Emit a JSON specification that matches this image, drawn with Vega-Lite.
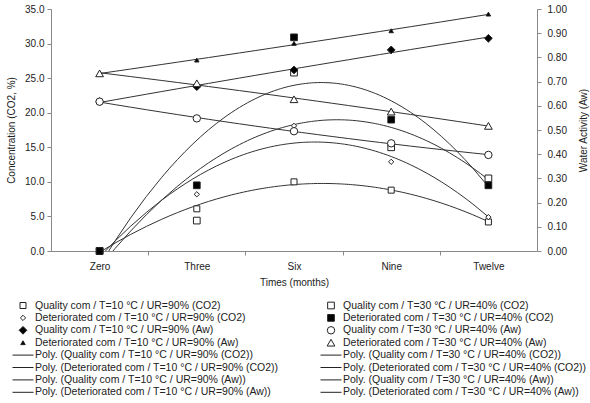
{
  "$schema": "https://vega.github.io/schema/vega-lite/v6.json",
  "width": 486,
  "height": 242,
  "autosize": {"type": "none"},
  "padding": {"left": 51, "top": 9, "right": 53, "bottom": 152},
  "background": "white",
  "config": {
    "view": {"stroke": null},
    "font": "Liberation Sans",
    "axis": {
      "labelFont": "Liberation Sans",
      "titleFont": "Liberation Sans",
      "labelFontSize": 10,
      "titleFontSize": 10,
      "titleFontWeight": "normal",
      "labelColor": "#222",
      "titleColor": "#222",
      "domainColor": "#888",
      "tickColor": "#888",
      "grid": false,
      "tickSize": 4
    }
  },
  "datasets": {
    "co2": [
      {"series": "Quality com / T=10  °C / UR=90% (CO2)", "m": 0, "v": 0},
      {"series": "Quality com / T=10  °C / UR=90% (CO2)", "m": 3, "v": 6.1},
      {"series": "Quality com / T=10  °C / UR=90% (CO2)", "m": 6, "v": 10.0},
      {"series": "Quality com / T=10  °C / UR=90% (CO2)", "m": 9, "v": 8.8},
      {"series": "Quality com / T=10  °C / UR=90% (CO2)", "m": 12, "v": 4.2},
      {"series": "Deteriorated com / T=10  °C / UR=90% (CO2)", "m": 0, "v": 0},
      {"series": "Deteriorated com / T=10  °C / UR=90% (CO2)", "m": 3, "v": 8.2},
      {"series": "Deteriorated com / T=10  °C / UR=90% (CO2)", "m": 6, "v": 18.1},
      {"series": "Deteriorated com / T=10  °C / UR=90% (CO2)", "m": 9, "v": 12.9},
      {"series": "Deteriorated com / T=10  °C / UR=90% (CO2)", "m": 12, "v": 4.9},
      {"series": "Quality com / T=30  °C / UR=40% (CO2)", "m": 0, "v": 0},
      {"series": "Quality com / T=30  °C / UR=40% (CO2)", "m": 3, "v": 4.4},
      {"series": "Quality com / T=30  °C / UR=40% (CO2)", "m": 6, "v": 25.8},
      {"series": "Quality com / T=30  °C / UR=40% (CO2)", "m": 9, "v": 15.0},
      {"series": "Quality com / T=30  °C / UR=40% (CO2)", "m": 12, "v": 10.5},
      {"series": "Deteriorated com / T=30  °C / UR=40% (CO2)", "m": 0, "v": 0},
      {"series": "Deteriorated com / T=30  °C / UR=40% (CO2)", "m": 3, "v": 9.5},
      {"series": "Deteriorated com / T=30  °C / UR=40% (CO2)", "m": 6, "v": 30.9},
      {"series": "Deteriorated com / T=30  °C / UR=40% (CO2)", "m": 9, "v": 19.0},
      {"series": "Deteriorated com / T=30  °C / UR=40% (CO2)", "m": 12, "v": 9.5}
    ],
    "aw": [
      {"series": "Quality com / T=10  °C / UR=90% (Aw)", "m": 0, "v": 0.617},
      {"series": "Quality com / T=10  °C / UR=90% (Aw)", "m": 3, "v": 0.679},
      {"series": "Quality com / T=10  °C / UR=90% (Aw)", "m": 6, "v": 0.748},
      {"series": "Quality com / T=10  °C / UR=90% (Aw)", "m": 9, "v": 0.831},
      {"series": "Quality com / T=10  °C / UR=90% (Aw)", "m": 12, "v": 0.879},
      {"series": "Deteriorated com / T=10  °C / UR=90% (Aw)", "m": 0, "v": 0.734},
      {"series": "Deteriorated com / T=10  °C / UR=90% (Aw)", "m": 3, "v": 0.789},
      {"series": "Deteriorated com / T=10  °C / UR=90% (Aw)", "m": 6, "v": 0.858},
      {"series": "Deteriorated com / T=10  °C / UR=90% (Aw)", "m": 9, "v": 0.910},
      {"series": "Deteriorated com / T=10  °C / UR=90% (Aw)", "m": 12, "v": 0.979},
      {"series": "Quality com / T=30  °C / UR=40% (Aw)", "m": 0, "v": 0.617},
      {"series": "Quality com / T=30  °C / UR=40% (Aw)", "m": 3, "v": 0.548},
      {"series": "Quality com / T=30  °C / UR=40% (Aw)", "m": 6, "v": 0.495},
      {"series": "Quality com / T=30  °C / UR=40% (Aw)", "m": 9, "v": 0.445},
      {"series": "Quality com / T=30  °C / UR=40% (Aw)", "m": 12, "v": 0.397},
      {"series": "Deteriorated com / T=30  °C / UR=40% (Aw)", "m": 0, "v": 0.734},
      {"series": "Deteriorated com / T=30  °C / UR=40% (Aw)", "m": 3, "v": 0.693},
      {"series": "Deteriorated com / T=30  °C / UR=40% (Aw)", "m": 6, "v": 0.627},
      {"series": "Deteriorated com / T=30  °C / UR=40% (Aw)", "m": 9, "v": 0.576},
      {"series": "Deteriorated com / T=30  °C / UR=40% (Aw)", "m": 12, "v": 0.517}
    ]
  },
  "encoding": {
    "x": {
      "field": "m",
      "type": "quantitative",
      "scale": {"domain": [-1.5, 13.5], "nice": false, "zero": false},
      "axis": {
        "title": "Times (months)",
        "values": [0, 1.5, 3, 4.5, 6, 7.5, 9, 10.5, 12],
        "labelExpr": "datum.value == 0 ? 'Zero' : datum.value == 3 ? 'Three' : datum.value == 6 ? 'Six' : datum.value == 9 ? 'Nine' : datum.value == 12 ? 'Twelve' : ''",
        "tickOpacity": {"condition": {"test": "datum.value % 3 === 0", "value": 0}, "value": 1},
        "labelOverlap": false,
        "labelPadding": 6,
        "titlePadding": 6
      }
    }
  },
  "layer": [
    {
      "data": {"name": "co2"},
      "encoding": {
        "y": {
          "field": "v",
          "type": "quantitative",
          "scale": {"domain": [0, 35], "nice": false},
          "axis": {
            "title": "Concentration (CO2, %)",
            "orient": "left",
            "values": [0, 5, 10, 15, 20, 25, 30, 35],
            "format": ".1f",
            "labelPadding": 3,
            "titlePadding": 8
          }
        }
      },
      "layer": [
        {
          "transform": [
            {"regression": "v", "on": "m", "method": "poly", "order": 2, "groupby": ["series"], "extent": [0, 12]}
          ],
          "mark": {"type": "line", "clip": true, "color": "#333", "strokeWidth": 1},
          "encoding": {"detail": {"field": "series"}}
        },
        {
          "mark": {"type": "point", "filled": true, "stroke": "#222", "strokeWidth": 1, "opacity": 1},
          "encoding": {
            "shape": {
              "field": "series", "type": "nominal",
              "scale": {
                "domain": [
                  "Quality com / T=10  °C / UR=90% (CO2)",
                  "Deteriorated com / T=10  °C / UR=90% (CO2)",
                  "Quality com / T=10  °C / UR=90% (Aw)",
                  "Deteriorated com / T=10  °C / UR=90% (Aw)",
                  "Poly. (Quality com / T=10  °C / UR=90% (CO2))",
                  "Poly. (Deteriorated com / T=10  °C / UR=90% (CO2))",
                  "Poly. (Quality com / T=10  °C / UR=90% (Aw))",
                  "Poly. (Deteriorated com / T=10  °C / UR=90% (Aw))",
                  "Quality com / T=30  °C / UR=40% (CO2)",
                  "Deteriorated com / T=30  °C / UR=40% (CO2)",
                  "Quality com / T=30  °C / UR=40% (Aw)",
                  "Deteriorated com / T=30  °C / UR=40% (Aw)",
                  "Poly. (Quality com / T=30  °C / UR=40% (CO2))",
                  "Poly. (Deteriorated com / T=30  °C / UR=40% (CO2))",
                  "Poly. (Quality com / T=30  °C / UR=40% (Aw))",
                  "Poly. (Deteriorated com / T=30  °C / UR=40% (Aw))"
                ],
                "range": ["square", "diamond", "diamond", "triangle-up", "M-1,0H1", "M-1,0H1", "M-1,0H1", "M-1,0H1",
                  "square", "square", "circle", "triangle-up", "M-1,0H1", "M-1,0H1", "M-1,0H1", "M-1,0H1"]
              },
              "legend": {
                "orient": "none", "legendX": -39, "legendY": 291, "columns": 2, "title": null,
                "labelFont": "Liberation Sans", "labelFontSize": 10.5, "labelColor": "#222", "labelLimit": 0,
                "clipHeight": 11, "rowPadding": 1.4, "columnPadding": 38, "labelOffset": 1,
                "symbolStrokeColor": "#222", "symbolStrokeWidth": 1
              }
            },
            "fill": {
              "field": "series", "type": "nominal",
              "scale": {
                "domain": [
                  "Quality com / T=10  °C / UR=90% (CO2)",
                  "Deteriorated com / T=10  °C / UR=90% (CO2)",
                  "Quality com / T=10  °C / UR=90% (Aw)",
                  "Deteriorated com / T=10  °C / UR=90% (Aw)",
                  "Poly. (Quality com / T=10  °C / UR=90% (CO2))",
                  "Poly. (Deteriorated com / T=10  °C / UR=90% (CO2))",
                  "Poly. (Quality com / T=10  °C / UR=90% (Aw))",
                  "Poly. (Deteriorated com / T=10  °C / UR=90% (Aw))",
                  "Quality com / T=30  °C / UR=40% (CO2)",
                  "Deteriorated com / T=30  °C / UR=40% (CO2)",
                  "Quality com / T=30  °C / UR=40% (Aw)",
                  "Deteriorated com / T=30  °C / UR=40% (Aw)",
                  "Poly. (Quality com / T=30  °C / UR=40% (CO2))",
                  "Poly. (Deteriorated com / T=30  °C / UR=40% (CO2))",
                  "Poly. (Quality com / T=30  °C / UR=40% (Aw))",
                  "Poly. (Deteriorated com / T=30  °C / UR=40% (Aw))"
                ],
                "range": ["white", "white", "black", "black", "white", "white", "white", "white",
                  "white", "black", "white", "white", "white", "white", "white", "white"]
              }
            },
            "size": {
              "field": "series", "type": "nominal",
              "scale": {
                "type": "ordinal",
                "domain": [
                  "Quality com / T=10  °C / UR=90% (CO2)",
                  "Deteriorated com / T=10  °C / UR=90% (CO2)",
                  "Quality com / T=10  °C / UR=90% (Aw)",
                  "Deteriorated com / T=10  °C / UR=90% (Aw)",
                  "Poly. (Quality com / T=10  °C / UR=90% (CO2))",
                  "Poly. (Deteriorated com / T=10  °C / UR=90% (CO2))",
                  "Poly. (Quality com / T=10  °C / UR=90% (Aw))",
                  "Poly. (Deteriorated com / T=10  °C / UR=90% (Aw))",
                  "Quality com / T=30  °C / UR=40% (CO2)",
                  "Deteriorated com / T=30  °C / UR=40% (CO2)",
                  "Quality com / T=30  °C / UR=40% (Aw)",
                  "Deteriorated com / T=30  °C / UR=40% (Aw)",
                  "Poly. (Quality com / T=30  °C / UR=40% (CO2))",
                  "Poly. (Deteriorated com / T=30  °C / UR=40% (CO2))",
                  "Poly. (Quality com / T=30  °C / UR=40% (Aw))",
                  "Poly. (Deteriorated com / T=30  °C / UR=40% (Aw))"
                ],
                "range": [36, 28, 60, 20, 441, 441, 441, 441, 45, 45, 55, 60, 441, 441, 441, 441]
              }
            }
          }
        }
      ]
    },
    {
      "data": {"name": "aw"},
      "encoding": {
        "y": {
          "field": "v",
          "type": "quantitative",
          "scale": {"domain": [0, 1], "nice": false},
          "axis": {
            "title": "Water Activity (Aw)",
            "orient": "right",
            "values": [0, 0.1, 0.2, 0.3, 0.4, 0.5, 0.6, 0.7, 0.8, 0.9, 1.0],
            "format": ".2f",
            "labelPadding": 6,
            "titleAngle": 270,
            "titlePadding": 22
          }
        }
      },
      "layer": [
        {
          "transform": [
            {"regression": "v", "on": "m", "method": "poly", "order": 2, "groupby": ["series"], "extent": [0, 12]}
          ],
          "mark": {"type": "line", "clip": true, "color": "#333", "strokeWidth": 1},
          "encoding": {"detail": {"field": "series"}}
        },
        {
          "mark": {"type": "point", "filled": true, "stroke": "#222", "strokeWidth": 1, "opacity": 1},
          "encoding": {
            "shape": {
              "field": "series", "type": "nominal",
              "scale": {
                "domain": [
                  "Quality com / T=10  °C / UR=90% (CO2)",
                  "Deteriorated com / T=10  °C / UR=90% (CO2)",
                  "Quality com / T=10  °C / UR=90% (Aw)",
                  "Deteriorated com / T=10  °C / UR=90% (Aw)",
                  "Poly. (Quality com / T=10  °C / UR=90% (CO2))",
                  "Poly. (Deteriorated com / T=10  °C / UR=90% (CO2))",
                  "Poly. (Quality com / T=10  °C / UR=90% (Aw))",
                  "Poly. (Deteriorated com / T=10  °C / UR=90% (Aw))",
                  "Quality com / T=30  °C / UR=40% (CO2)",
                  "Deteriorated com / T=30  °C / UR=40% (CO2)",
                  "Quality com / T=30  °C / UR=40% (Aw)",
                  "Deteriorated com / T=30  °C / UR=40% (Aw)",
                  "Poly. (Quality com / T=30  °C / UR=40% (CO2))",
                  "Poly. (Deteriorated com / T=30  °C / UR=40% (CO2))",
                  "Poly. (Quality com / T=30  °C / UR=40% (Aw))",
                  "Poly. (Deteriorated com / T=30  °C / UR=40% (Aw))"
                ],
                "range": ["square", "diamond", "diamond", "triangle-up", "M-1,0H1", "M-1,0H1", "M-1,0H1", "M-1,0H1",
                  "square", "square", "circle", "triangle-up", "M-1,0H1", "M-1,0H1", "M-1,0H1", "M-1,0H1"]
              }
            },
            "fill": {
              "field": "series", "type": "nominal",
              "scale": {
                "domain": [
                  "Quality com / T=10  °C / UR=90% (CO2)",
                  "Deteriorated com / T=10  °C / UR=90% (CO2)",
                  "Quality com / T=10  °C / UR=90% (Aw)",
                  "Deteriorated com / T=10  °C / UR=90% (Aw)",
                  "Poly. (Quality com / T=10  °C / UR=90% (CO2))",
                  "Poly. (Deteriorated com / T=10  °C / UR=90% (CO2))",
                  "Poly. (Quality com / T=10  °C / UR=90% (Aw))",
                  "Poly. (Deteriorated com / T=10  °C / UR=90% (Aw))",
                  "Quality com / T=30  °C / UR=40% (CO2)",
                  "Deteriorated com / T=30  °C / UR=40% (CO2)",
                  "Quality com / T=30  °C / UR=40% (Aw)",
                  "Deteriorated com / T=30  °C / UR=40% (Aw)",
                  "Poly. (Quality com / T=30  °C / UR=40% (CO2))",
                  "Poly. (Deteriorated com / T=30  °C / UR=40% (CO2))",
                  "Poly. (Quality com / T=30  °C / UR=40% (Aw))",
                  "Poly. (Deteriorated com / T=30  °C / UR=40% (Aw))"
                ],
                "range": ["white", "white", "black", "black", "white", "white", "white", "white",
                  "white", "black", "white", "white", "white", "white", "white", "white"]
              }
            },
            "size": {
              "field": "series", "type": "nominal",
              "scale": {
                "type": "ordinal",
                "domain": [
                  "Quality com / T=10  °C / UR=90% (CO2)",
                  "Deteriorated com / T=10  °C / UR=90% (CO2)",
                  "Quality com / T=10  °C / UR=90% (Aw)",
                  "Deteriorated com / T=10  °C / UR=90% (Aw)",
                  "Poly. (Quality com / T=10  °C / UR=90% (CO2))",
                  "Poly. (Deteriorated com / T=10  °C / UR=90% (CO2))",
                  "Poly. (Quality com / T=10  °C / UR=90% (Aw))",
                  "Poly. (Deteriorated com / T=10  °C / UR=90% (Aw))",
                  "Quality com / T=30  °C / UR=40% (CO2)",
                  "Deteriorated com / T=30  °C / UR=40% (CO2)",
                  "Quality com / T=30  °C / UR=40% (Aw)",
                  "Deteriorated com / T=30  °C / UR=40% (Aw)",
                  "Poly. (Quality com / T=30  °C / UR=40% (CO2))",
                  "Poly. (Deteriorated com / T=30  °C / UR=40% (CO2))",
                  "Poly. (Quality com / T=30  °C / UR=40% (Aw))",
                  "Poly. (Deteriorated com / T=30  °C / UR=40% (Aw))"
                ],
                "range": [36, 28, 60, 20, 441, 441, 441, 441, 45, 45, 55, 60, 441, 441, 441, 441]
              }
            }
          }
        }
      ]
    }
  ],
  "resolve": {"scale": {"y": "independent"}}
}
